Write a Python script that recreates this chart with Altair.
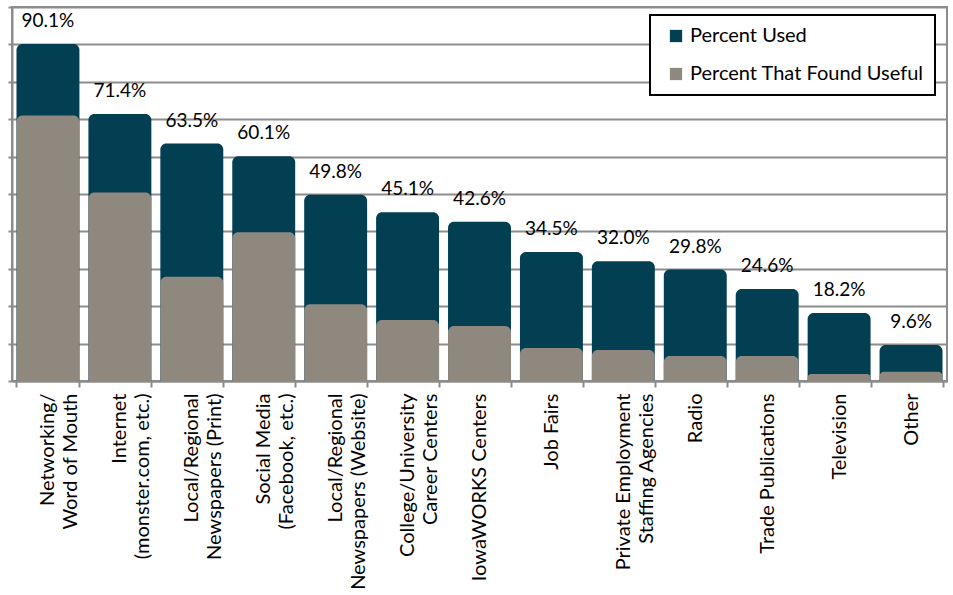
import altair as alt
import pandas as pd

categories = [
    "Networking/|Word of Mouth",
    "Internet|(monster.com, etc.)",
    "Local/Regional|Newspapers (Print)",
    "Social Media|(Facebook, etc.)",
    "Local/Regional|Newspapers (Website)",
    "College/University|Career Centers",
    "IowaWORKS Centers",
    "Job Fairs",
    "Private Employment|Staffing Agencies",
    "Radio",
    "Trade Publications",
    "Television",
    "Other",
]
used = [90.1, 71.4, 63.5, 60.1, 49.8, 45.1, 42.6, 34.5, 32.0, 29.8, 24.6, 18.2, 9.6]
useful = [71.0, 50.4, 27.9, 39.8, 20.5, 16.3, 14.7, 8.8, 8.3, 6.7, 6.7, 1.9, 2.5]
series = ["Percent Used", "Percent That Found Useful"]
colors = ["#023F53", "#8F887E"]

rows = []
for c, u, f in zip(categories, used, useful):
    rows.append({"category": c, "series": series[0], "value": u})
    rows.append({"category": c, "series": series[1], "value": f})
df = pd.DataFrame(rows)

FONT = "Lato"
GRID = "#8C8C8C"

x = alt.X(
    "category:N",
    sort=categories,
    scale=alt.Scale(paddingInner=0.125, paddingOuter=0.0625),
    axis=alt.Axis(
        title=None,
        labelAngle=-90,
        labelExpr="split(datum.label, '|')",
        labelFont=FONT,
        labelFontSize=20,
        labelColor="black",
        labelLineHeight=23,
        labelPadding=6,
        labelLimit=300,
        tickBand="extent",
        tickSize=6,
        tickColor=GRID,
        tickWidth=2,
        domainColor=GRID,
        domainWidth=2,
    ),
)
y = alt.Y(
    "value:Q",
    stack=None,
    scale=alt.Scale(domain=[0, 100]),
    axis=alt.Axis(
        title=None,
        labels=False,
        values=list(range(0, 101, 10)),
        grid=True,
        gridColor=GRID,
        gridWidth=2,
        tickColor=GRID,
        tickSize=4,
        tickWidth=2,
        domainColor=GRID,
        domainWidth=2,
    ),
)
color = alt.Color(
    "series:N",
    scale=alt.Scale(domain=series, range=colors),
    legend=alt.Legend(
        title=None,
        orient="none",
        legendX=638,
        legendY=8,
        fillColor="white",
        strokeColor="black",
        padding=11,
        symbolType="square",
        symbolSize=150,
        symbolStrokeWidth=0,
        symbolOffset=5,
        labelFont=FONT,
        labelFontSize=20,
        labelColor="black",
        labelOffset=4,
        labelLimit=400,
        rowPadding=18,
    ),
)

base = alt.Chart(df)

used_bars = base.transform_filter(alt.datum.series == series[0]).mark_bar(
    cornerRadiusTopLeft=6, cornerRadiusTopRight=6
).encode(x=x, y=y, color=color)

useful_bars = base.transform_filter(alt.datum.series == series[1]).mark_bar(
    cornerRadiusTopLeft=6, cornerRadiusTopRight=6
).encode(x=x, y=y, color=color)

labels = base.transform_filter(alt.datum.series == series[0]).transform_calculate(
    label="format(datum.value, '.1f') + '%'"
).mark_text(
    font=FONT, fontSize=19, color="black", baseline="middle", dy=-23
).encode(x=x, y=y, text="label:N")

chart = (
    alt.layer(used_bars, useful_bars, labels)
    .properties(
        width=935,
        height=374,
        autosize=alt.AutoSizeParams(type="none"),
        padding={"left": 12, "top": 7, "right": 6, "bottom": 214},
    )
    .configure_view(stroke=GRID, strokeWidth=2)
    .configure_legend(strokeWidth=2)
)

chart.save("out.html", embed_options={"renderer": "svg", "actions": False})
